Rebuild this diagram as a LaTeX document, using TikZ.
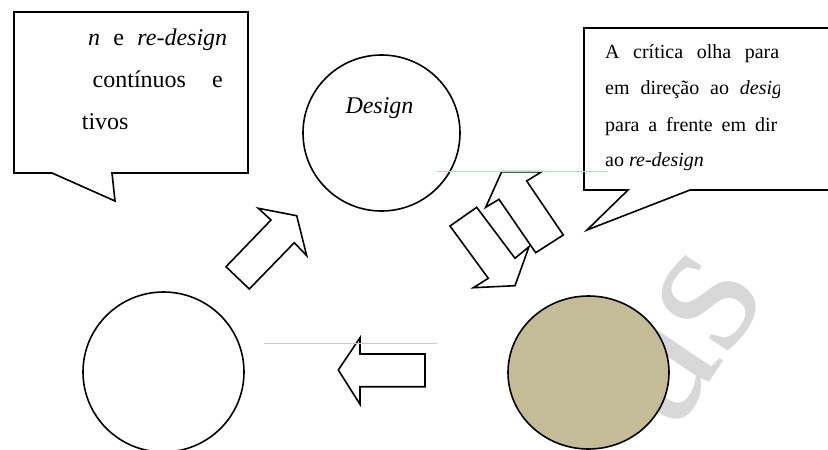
\documentclass[tikz,border=0pt]{standalone}
\usepackage{fontspec}
\setmainfont{Liberation Serif}
\usetikzlibrary{shapes.geometric}
\definecolor{khaki}{RGB}{195,188,150}
\definecolor{guide}{RGB}{240,185,190}
\definecolor{stamp}{RGB}{216,216,216}
\begin{document}
\begin{tikzpicture}[x=1pt,y=-1pt,
  outline/.style={draw=black,line width=1.6pt,line join=miter,fill=white},
  disc/.style={draw=black,line width=1.6pt,ellipse,inner sep=0pt},
  word/.style={inner sep=0pt,anchor=base west},
  big/.style={font=\fontsize{24}{28}\selectfont},
  small/.style={font=\fontsize{20}{24}\selectfont},
  thin/.style={draw=guide,line width=0.8pt}]
\useasboundingbox (0,0) rectangle (828,450);
\fill[white] (0,0) rectangle (828,450);

% faint stamp lettering behind the lower circle
\node[text=stamp,rotate=56,inner sep=0pt,font=\fontsize{200}{200}\selectfont] (stampword) at (684,338) {as};

% the three stages
\node[disc,fill=white,minimum width=157pt,minimum height=156pt] (design) at (381.5,133) {};
\node[disc,fill=white,minimum width=161pt,minimum height=160pt] (left) at (163.5,372) {};
\node[disc,fill=khaki,minimum width=161pt,minimum height=153pt] (crit) at (588.5,372.5) {};
\node[word,big,anchor=base] (designlabel) at (379.5,113) {\itshape Design};

% block arrows
\draw[outline] (226,266.7) -- (271,220) -- (258.3,208.3) -- (296.7,215.7)
  -- (306.7,255.7) -- (294.3,242.7) -- (249.3,289) -- cycle;
\draw[outline] (338.3,370) -- (360,337.7) -- (360,354) -- (425,354)
  -- (425,386.7) -- (360,386.7) -- (360,404.3) -- cycle;
\draw[outline] (450,226) -- (476.7,207.3) -- (515,258.3) -- (529,246.7)
  -- (515,285.7) -- (473.3,287.7) -- (488.3,278.3) -- cycle;
\draw[outline] (501.7,171.7) -- (541.7,171.7) -- (526.7,181) -- (563.3,235)
  -- (535.7,252.7) -- (499,199.3) -- (485.7,207.3) -- cycle;

% callouts
\draw[outline] (14,12) -- (248,12) -- (248,173) -- (112,173) -- (115,201)
  -- (52,173) -- (14,173) -- cycle;
\draw[outline] (584,28) -- (832,28) -- (832,190) -- (690,190) -- (587,230)
  -- (628,190) -- (584,190) -- cycle;

% text of the left callout
\node[word,big] (l1) at (88,45) {\makebox[139pt][s]{\itshape n \upshape e \itshape re-design}};
\node[word,big] (l2) at (92.5,87.3) {\makebox[130pt][s]{contínuos e}};
\node[word,big] (l3) at (81.7,129.3) {tivos};

% text of the right callout, cut at the right margin
\begin{scope}
\clip (598,30) rectangle (779,188);
\node[word,small] (r1) at (605,58.7) {\makebox[174pt][s]{A crítica olha para}};
\node[word,small] (r2) at (605,94.8) {\makebox[187pt][s]{em direção ao \itshape design}};
\node[word,small] (r3) at (605,131) {\makebox[172pt][s]{para a frente em dir}};
\node[word,small] (r4) at (605,166.7) {ao \itshape re-design};
\end{scope}

% thin guide lines
\coordinate (g1a) at (437,171.7);
\coordinate (g1b) at (608,171.7);
\coordinate (g2a) at (264,343);
\coordinate (g2b) at (437,343);
\draw[thin] (g1a) -- (g1b);
\draw[thin] (g2a) -- (g2b);
\end{tikzpicture}
\end{document}
